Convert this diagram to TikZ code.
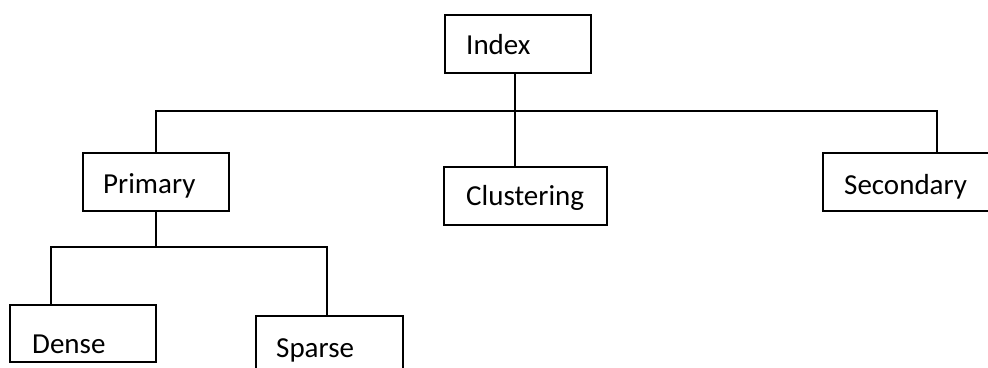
\documentclass[tikz,border=0pt]{standalone}
\usepackage{fontspec}
\setmainfont{Carlito}
\begin{document}
\begin{tikzpicture}[x=1pt,y=-1pt,
  box/.style={draw=black,line width=1.8pt,rectangle,inner sep=0pt,minimum height=58pt},
  txt/.style={anchor=base west,inner sep=0pt,font=\fontsize{29}{34}\selectfont},
  conn/.style={draw=black,line width=1.8pt}]
\useasboundingbox (0,0) rectangle (988,367);
\clip (0,0) rectangle (988,367);
% boxes
\node[box,minimum width=146pt] (index) at (518,44) {};
\node[box,minimum width=146pt] (primary) at (156,182) {};
\node[box,minimum width=163pt] (clustering) at (525.5,196) {};
\node[box,minimum width=187pt] (secondary) at (916.5,182) {};
\node[box,minimum width=146pt,minimum height=57pt] (dense) at (83,333.5) {};
\node[box,minimum width=147pt,minimum height=64pt] (sparse) at (329.5,348) {};
% texts
\node[txt] (tindex) at (466,54) {Index};
\node[txt] (tprimary) at (103,193) {Primary};
\node[txt] (tclustering) at (466,205) {Clustering};
\node[txt] (tsecondary) at (844,194) {Secondary};
\node[txt] (tdense) at (32,353) {Dense};
\node[txt] (tsparse) at (276,357) {Sparse};
% connectors
\coordinate (j1) at (515,111);
\coordinate (hl) at (156,111);
\coordinate (hr) at (937,111);
\draw[conn] (j1 |- index.south) -- (j1);
\draw[conn] (j1) -- (j1 |- clustering.north);
\draw[conn] (primary.north) -- (hl) -- (hr) -- (hr |- secondary.north);
\coordinate (bl) at (51,247);
\coordinate (br) at (327,247);
\draw[conn] (primary.south) -- (primary.south |- bl);
\draw[conn] (bl |- dense.north) -- (bl) -- (br) -- (br |- sparse.north);
\end{tikzpicture}
\end{document}
